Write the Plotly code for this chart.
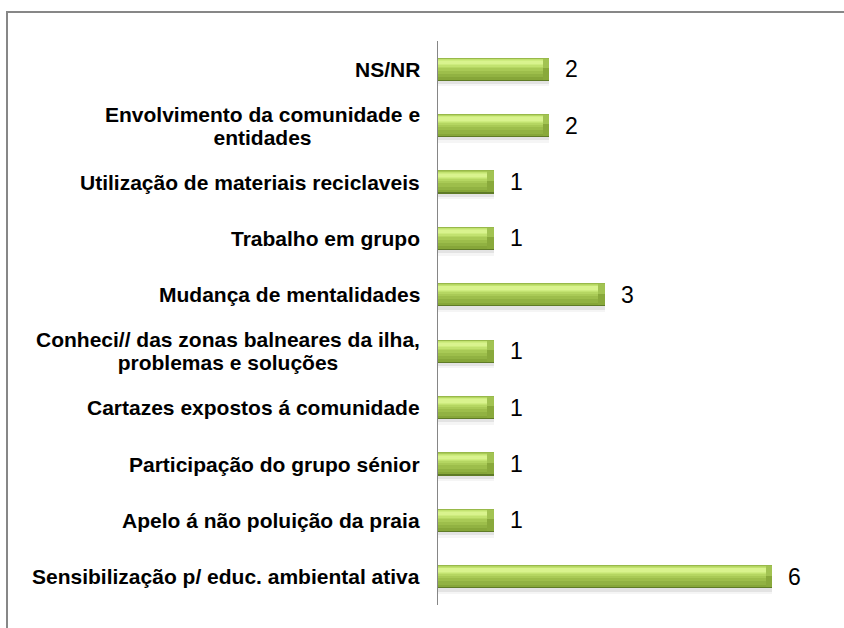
import plotly.graph_objects as go

# Data (top to bottom as shown)
categories = [
    "NS/NR",
    "Envolvimento da comunidade e<br>entidades",
    "Utilização de materiais reciclaveis",
    "Trabalho em grupo",
    "Mudança de mentalidades",
    "Conheci// das zonas balneares da ilha,<br>problemas e soluções",
    "Cartazes expostos á comunidade",
    "Participação do grupo sénior",
    "Apelo á não poluição da praia",
    "Sensibilização p/ educ. ambiental ativa",
]
values = [2, 2, 1, 1, 3, 1, 1, 1, 1, 6]

# plotting order: bottom first
cats = list(reversed(categories))
vals = list(reversed(values))

W, H = 844, 628
L, R, T, B = 438, 16, 41, 23
XMAX = 7
BW = 0.41  # bar thickness in category units

fig = go.Figure()

# layered bands to imitate the glossy cylinder look: (f0, f1, colour)
layers = [
    (-0.24, 0.80, "rgba(0,0,0,0.04)"),
    (-0.14, 0.88, "rgba(0,0,0,0.07)"),
    (0.00, 1.00, "#5f7b27"),
    (0.50, 1.00, "#98b94a"),
    (0.05, 0.96, "#86a639"),
    (0.15, 0.96, "#91b242"),
    (0.30, 0.96, "#9dbe4b"),
    (0.44, 0.96, "#a9ca56"),
    (0.54, 0.95, "#b5d662"),
    (0.61, 0.93, "#c2e270"),
    (0.67, 0.90, "#ceec7f"),
    (0.72, 0.86, "#d9f38e"),
]
for f0, f1, col in layers:
    fig.add_trace(go.Bar(
        y=cats, x=vals, orientation="h",
        width=(f1 - f0) * BW, offset=-BW / 2 + f0 * BW,
        marker=dict(color=col, line=dict(width=0)),
        hoverinfo="skip", showlegend=False,
    ))

# right-end bevel (subtle)
CAP = 0.12
bevel = [
    (0.05, 0.55, "#89a93b"),
    (0.55, 0.96, "#a2c352"),
]
for f0, f1, col in bevel:
    fig.add_trace(go.Bar(
        y=cats, x=[CAP] * len(vals), base=[v - CAP for v in vals], orientation="h",
        width=(f1 - f0) * BW, offset=-BW / 2 + f0 * BW,
        marker=dict(color=col, line=dict(width=0)),
        hoverinfo="skip", showlegend=False,
    ))

annotations = []
for c, v in zip(cats, vals):
    lines = c.split("<br>")
    txt = "<br>".join('<span style="font-size:21px">%s</span>' % s for s in lines)
    annotations.append(dict(
        x=0, y=c, xref="x", yref="y", text=txt, showarrow=False,
        xanchor="right", yanchor="middle", xshift=-16, align="center",
        font=dict(family="Liberation Sans, Arial, sans-serif", size=18 if len(lines) > 1 else 21,
                  color="#000000", weight="bold"),
    ))
    annotations.append(dict(
        x=v, y=c, xref="x", yref="y", text=str(v), showarrow=False,
        xanchor="left", yanchor="middle", xshift=14,
        font=dict(family="Liberation Sans, Arial, sans-serif", size=23, color="#000000"),
    ))

pw = W - L - R
ph = H - T - B
fig.add_shape(type="rect", xref="paper", yref="paper",
              x0=(7 - L) / pw, x1=(W + 10 - L) / pw,
              y0=-(B + 10) / ph, y1=1 + (T - 12) / ph,
              line=dict(color="#878787", width=2), fillcolor="rgba(0,0,0,0)", layer="below")

fig.update_layout(
    width=W, height=H, margin=dict(l=L, r=R, t=T, b=B),
    barmode="overlay", bargap=0,
    paper_bgcolor="white", plot_bgcolor="white",
    xaxis=dict(range=[0, XMAX], visible=False, fixedrange=True),
    yaxis=dict(categoryorder="array", categoryarray=cats, range=[-0.5, len(cats) - 0.5],
               showticklabels=False, ticks="", showgrid=False, zeroline=False,
               showline=True, linecolor="#868686", linewidth=1),
    annotations=annotations,
    font=dict(family="Liberation Sans, Arial, sans-serif"),
)

fig.write_html(
    "out.html",
    config={"displayModeBar": False},
    post_script="document.body.style.margin='0';document.body.style.padding='0';document.body.style.overflow='hidden';",
)
